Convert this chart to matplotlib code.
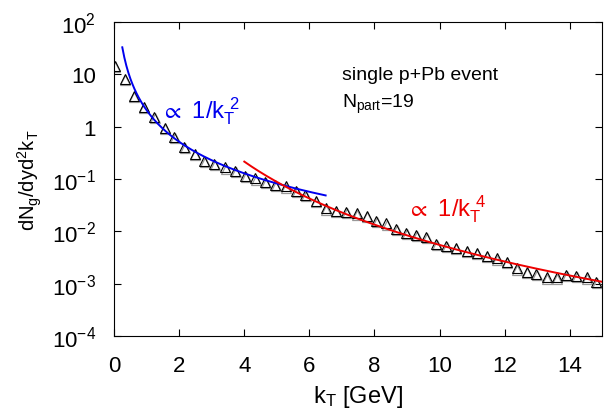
import numpy as np
import matplotlib
matplotlib.use("Agg")
import matplotlib.pyplot as plt
import matplotlib.transforms as mtransforms

plt.rcParams['font.family'] = ['Liberation Sans', 'DejaVu Sans']
plt.rcParams['mathtext.default'] = 'regular'

# spectrum of a single p+Pb event
kt = [0.02, 0.33, 0.60, 0.91, 1.24, 1.55, 1.85, 2.16, 2.47, 2.77,
      3.08, 3.42, 3.72, 4.03, 4.33, 4.64, 4.95, 5.28, 5.59, 5.88,
      6.20, 6.50, 6.81, 7.14, 7.45, 7.76, 8.06, 8.37, 8.67, 8.98,
      9.29, 9.60, 9.90, 10.21, 10.50, 10.83, 11.15, 11.45, 11.76, 12.07,
      12.37, 12.68, 12.98, 13.29, 13.60, 13.90, 14.21, 14.52, 14.82]
dndk = [14.6, 8.1, 3.9, 2.4, 1.53, 0.94, 0.64, 0.41, 0.30, 0.22,
        0.193, 0.167, 0.144, 0.116, 0.103, 0.0888, 0.0767, 0.0724, 0.0597, 0.0494,
        0.0380, 0.0275, 0.0248, 0.0237, 0.0221, 0.0194, 0.0160, 0.0142, 0.0111, 0.0093,
        0.0085, 0.0077, 0.0057, 0.0053, 0.0048, 0.00426, 0.00385, 0.00342, 0.00305, 0.00262,
        0.00196, 0.00165, 0.00153, 0.00132, 0.00132, 0.00146, 0.00142, 0.00132, 0.00109]

# power-law guides
soft_coef = 2.05   # A / kT^2
soft_range = (0.25, 6.5)
hard_coef = 55.0   # B / kT^4
hard_range = (4.0, 15.0)

yticks = [1e-4, 1e-3, 1e-2, 1e-1, 1, 10, 1e2]
ytick_labels = ['$10^{-4}$', '$10^{-3}$', '$10^{-2}$', '$10^{-1}$', '1', '10', '$10^{2}$']

fig = plt.figure(figsize=(6.04, 4.10), dpi=100)
ax = fig.add_axes([0.189, 0.178, 0.808, 0.766])

# grey shadow under the triangles, then the triangles themselves
shadow = mtransforms.offset_copy(ax.transData, fig=fig, x=0.5, y=-1.2, units='dots')
ax.plot(kt, dndk, '^', ms=7.5, mfc='none', mec='#999999', mew=0.9, transform=shadow)
ax.plot(kt, dndk, '^', ms=7.5, mfc='none', mec='black', mew=0.8)

x1 = np.linspace(soft_range[0], soft_range[1], 200)
ax.plot(x1, soft_coef / x1 ** 2, color='#0000ee', lw=1.4)
x2 = np.linspace(hard_range[0], hard_range[1], 200)
ax.plot(x2, hard_coef / x2 ** 4, color='#ee0000', lw=1.4)

ax.set_yscale('log')
ax.set_xlim(0, 15)
ax.set_ylim(1e-4, 1e2)
ax.set_xticks([0, 2, 4, 6, 8, 10, 12, 14])
ax.set_yticks(yticks)
ax.set_yticklabels(ytick_labels)
ax.minorticks_off()
ax.tick_params(direction='in', top=True, right=True, length=5, width=0.8,
               labelsize=16)
ax.tick_params(axis='x', pad=14)
ax.tick_params(axis='y', pad=13)

ax.set_xlabel('$k_T$ [GeV]', fontsize=17, labelpad=5)
ax.set_ylabel('$dN_g/dyd^2k_T$', fontsize=14.5, labelpad=6)

ax.text(7.0, 10.0, 'single p+Pb event', fontsize=14, va='center')
ax.text(7.0, 2.8, '$N_{part}$=19', fontsize=14, va='center')
ax.text(1.4, 1.5, r'$\propto$ 1/$k_T^{\ 2}$', fontsize=17, color='#0000ee', va='baseline')
ax.text(8.98, 0.02, r'$\propto$ 1/$k_T^{\ 4}$', fontsize=17, color='#ee0000', va='baseline')

fig.savefig('out.png', dpi=100)
